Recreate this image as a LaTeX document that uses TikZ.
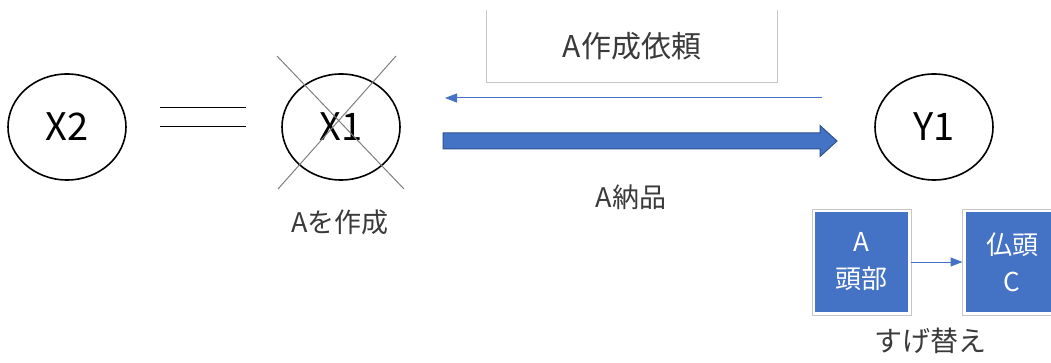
\documentclass[tikz,border=0pt]{standalone}
\usepackage{fontspec}
\setmainfont{Noto Sans CJK JP}
\usetikzlibrary{arrows.meta,calc,shapes.geometric}
\definecolor{pblue}{HTML}{4472C4}
\definecolor{pdark}{HTML}{2F528F}
\definecolor{tgray}{HTML}{3A3A3A}
\begin{document}
\begin{tikzpicture}[x=1pt,y=-1pt,
  party/.style={draw=black,line width=1.6pt,ellipse,minimum width=118pt,minimum height=106pt,inner sep=0pt,font=\fontsize{38}{42}\selectfont},
  lbl/.style={text=tgray,inner sep=0pt,font=\fontsize{27}{32}\selectfont},
  blk/.style={fill=pblue,draw=white,line width=3pt,minimum width=96pt,minimum height=103pt,inner sep=0pt,text=white,align=center,font=\fontsize{26}{37}\selectfont},
  blkframe/.style={draw=black!22,line width=0.8pt},
  thin/.style={draw=pblue,line width=1pt,-{Triangle[length=12pt,width=9pt]}},
  eqline/.style={draw=black,line width=1pt},
  cross/.style={draw=black!50,line width=1pt}
]
\clip (0,0) rectangle (1051,363);
\fill[white] (0,0) rectangle (1051,363);

% parties
\node[party] (x2) at (67,127) {X2};
\node[party] (x1) at (341,127) {X1};
\node[party] (y1) at (934,127) {Y1};

% equality sign
\coordinate (e1a) at (160,108); \coordinate (e1b) at (246,108);
\coordinate (e2a) at (160,127); \coordinate (e2b) at (246,127);
\draw[eqline] (e1a) -- (e1b);
\draw[eqline] (e2a) -- (e2b);

% cross over X1
\coordinate (c1) at (277,56); \coordinate (c2) at (404,189);
\coordinate (c3) at (396,56); \coordinate (c4) at (278,189);
\draw[cross] (c1) -- (c2);
\draw[cross] (c3) -- (c4);

\node[lbl] (make) at (340,222) {Aを作成};

% request box (open at top)
\node[lbl,minimum width=291pt,minimum height=72pt,font=\fontsize{30}{34}\selectfont] (req) at (632,46) {A作成依頼};
\draw[draw=black!22,line width=0.8pt] (req.north west) -- (req.south west) -- (req.south east) -- (req.north east);

% thin request arrow
\coordinate (ra) at (822,98); \coordinate (rb) at (445,98);
\draw[thin] (ra) -- (rb);

% thick delivery arrow
\coordinate (ts) at (443,141); \coordinate (te) at (837,141);
\draw[fill=pblue,draw=pdark,line width=1pt]
  ($(ts)+(0,-8)$) -- ($(te)+(-17,-8)$) -- ($(te)+(-17,-15.5)$) -- (te)
  -- ($(te)+(-17,15.5)$) -- ($(te)+(-17,8)$) -- ($(ts)+(0,8)$) -- cycle;

\node[lbl] (deliv) at (631,197) {A納品};

% swap blocks
\node[blk] (ha) at (861.5,262) {A\\頭部};
\node[blk] (hc) at (1012,262) {仏頭\\C};
\draw[blkframe] (ha.north west) rectangle (ha.south east);
\draw[blkframe] (hc.north west) rectangle (hc.south east);
\draw[thin] (ha.east) -- (hc.west);

\node[lbl,font=\fontsize{28}{32}\selectfont] (swap) at (930,341) {すげ替え};
\end{tikzpicture}
\end{document}
